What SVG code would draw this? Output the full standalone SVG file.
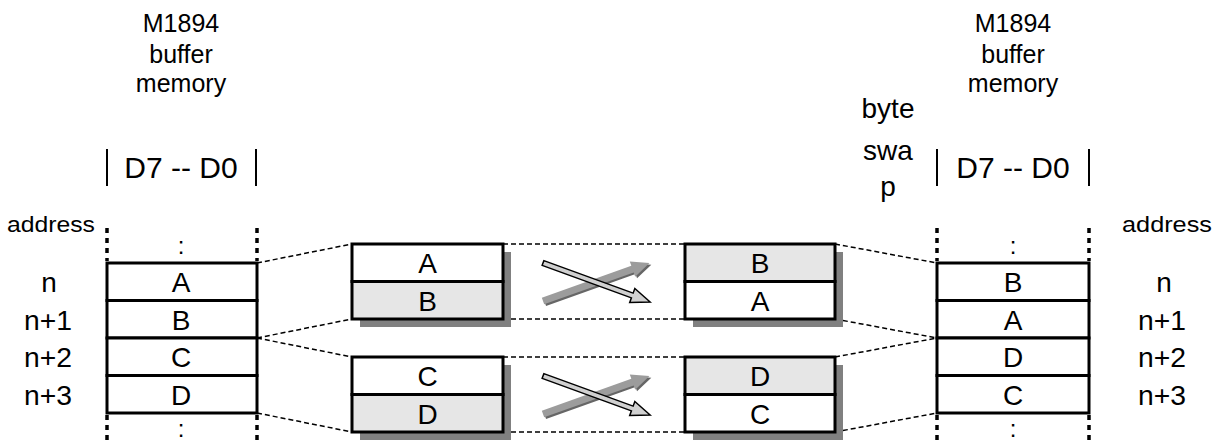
<svg xmlns="http://www.w3.org/2000/svg" width="1220" height="443" viewBox="0 0 1220 443">
<style>
text{font-family:"Liberation Sans",Arial,sans-serif;fill:#000}
.t25{font-size:25px;text-anchor:middle}
.t28{font-size:28px;text-anchor:middle}
.col{font-size:24px;text-anchor:middle}
.t30{font-size:30px;text-anchor:middle}
.addr{font-size:22px}
.cell{fill:#fff;stroke:#000;stroke-width:3}
.gcell{fill:#e6e6e6;stroke:#000;stroke-width:3}
.shadow{fill:#808080}
.dots{stroke:#000;stroke-width:3.5;stroke-dasharray:5 5;fill:none}
.bar{stroke:#000;stroke-width:2}
.conn{stroke:#000;stroke-width:1.5;stroke-dasharray:5 3;fill:none}
.arrow{fill:#d0d0d0;stroke:#000;stroke-width:1.5;stroke-linejoin:miter}
.garrow{fill:#9c9c9c}
.garrowsh{fill:#666}
</style>
<defs>
<polygon id="oarrow" class="arrow" points="0,-2.5 95,-2.5 95,-7.5 114,0 95,7.5 95,2.5 0,2.5"/>
<g id="gar">
<polygon class="garrowsh" transform="translate(1.2,2.2)" points="0,-3.5 95,-3.5 95,-8 113,0 95,8 95,3.5 0,3.5"/>
<polygon class="garrow" points="0,-3.5 95,-3.5 95,-8 113,0 95,8 95,3.5 0,3.5"/>
</g>
</defs>

<!-- left memory -->
<g id="left-memory">
<text class="t25" x="181" y="32">M1894</text>
<text class="t25" x="181" y="63">buffer</text>
<text class="t25" x="181" y="92">memory</text>
<line class="bar" x1="107" y1="149" x2="107" y2="186"/>
<line class="bar" x1="256" y1="149" x2="256" y2="186"/>
<text class="t30" x="181" y="178">D7 -- D0</text>
<text class="addr" x="7" y="232" textLength="88" lengthAdjust="spacingAndGlyphs">address</text>
<line class="dots" x1="107" y1="228" x2="107" y2="261"/>
<line class="dots" x1="257" y1="228" x2="257" y2="261"/>
<line class="dots" x1="107" y1="415" x2="107" y2="443"/>
<line class="dots" x1="257" y1="415" x2="257" y2="443"/>
<text class="col" x="181" y="254">:</text>
<text class="col" x="181" y="437">:</text>
<rect class="cell" x="107" y="263" width="150" height="37.5"/>
<rect class="cell" x="107" y="300.5" width="150" height="37.5"/>
<rect class="cell" x="107" y="338" width="150" height="37.5"/>
<rect class="cell" x="107" y="375.5" width="150" height="37.5"/>
<text class="t28" x="181" y="292">A</text>
<text class="t28" x="181" y="329.5">B</text>
<text class="t28" x="181" y="367">C</text>
<text class="t28" x="181" y="404.5">D</text>
<text class="t28" x="49" y="292">n</text>
<text class="t28" x="48" y="329.5" textLength="48" lengthAdjust="spacingAndGlyphs">n+1</text>
<text class="t28" x="48" y="367" textLength="48" lengthAdjust="spacingAndGlyphs">n+2</text>
<text class="t28" x="48" y="404.5" textLength="48" lengthAdjust="spacingAndGlyphs">n+3</text>
</g>

<!-- connectors -->
<g id="connectors">
<line class="conn" x1="257" y1="263" x2="352" y2="244"/>
<line class="conn" x1="257" y1="338" x2="352" y2="319"/>
<line class="conn" x1="257" y1="338" x2="352" y2="357"/>
<line class="conn" x1="257" y1="413" x2="352" y2="432"/>
<line class="conn" x1="503" y1="244" x2="685" y2="244"/>
<line class="conn" x1="503" y1="319" x2="685" y2="319"/>
<line class="conn" x1="503" y1="357" x2="685" y2="357"/>
<line class="conn" x1="503" y1="432" x2="685" y2="432"/>
<line class="conn" x1="835" y1="244" x2="937" y2="263"/>
<line class="conn" x1="835" y1="319" x2="937" y2="338"/>
<line class="conn" x1="835" y1="357" x2="937" y2="338"/>
<line class="conn" x1="835" y1="432" x2="937" y2="413"/>
</g>

<!-- middle left boxes -->
<g id="box-AB">
<rect class="shadow" x="360" y="252" width="151" height="75"/>
<rect class="cell" x="352" y="244" width="151" height="37.5"/>
<rect class="gcell" x="352" y="281.5" width="151" height="37.5"/>
<text class="t28" x="427.5" y="273">A</text>
<text class="t28" x="427.5" y="310.5">B</text>
</g>
<g id="box-CD">
<rect class="shadow" x="360" y="365" width="151" height="75"/>
<rect class="cell" x="352" y="357" width="151" height="37.5"/>
<rect class="gcell" x="352" y="394.5" width="151" height="37.5"/>
<text class="t28" x="427.5" y="386">C</text>
<text class="t28" x="427.5" y="423.5">D</text>
</g>

<!-- swap arrows -->
<g id="swap-1">
<use href="#gar" transform="translate(543,301) rotate(-19.6)"/>
<use href="#oarrow" transform="translate(543,263) rotate(20)"/>
</g>
<g id="swap-2">
<use href="#gar" transform="translate(543,414) rotate(-19.6)"/>
<use href="#oarrow" transform="translate(543,376) rotate(20)"/>
</g>

<!-- middle right boxes -->
<g id="box-BA">
<rect class="shadow" x="693" y="252" width="150" height="75"/>
<rect class="gcell" x="685" y="244" width="150" height="37.5"/>
<rect class="cell" x="685" y="281.5" width="150" height="37.5"/>
<text class="t28" x="760" y="273">B</text>
<text class="t28" x="760" y="310.5">A</text>
</g>
<g id="box-DC">
<rect class="shadow" x="693" y="365" width="150" height="75"/>
<rect class="gcell" x="685" y="357" width="150" height="37.5"/>
<rect class="cell" x="685" y="394.5" width="150" height="37.5"/>
<text class="t28" x="760" y="386">D</text>
<text class="t28" x="760" y="423.5">C</text>
</g>

<!-- byte swap label -->
<g id="byte-swap">
<text class="t28" x="888" y="118">byte</text>
<text class="t28" x="888" y="160">swa</text>
<text class="t28" x="888" y="196">p</text>
</g>

<!-- right memory -->
<g id="right-memory">
<text class="t25" x="1013" y="32">M1894</text>
<text class="t25" x="1013" y="63">buffer</text>
<text class="t25" x="1013" y="92">memory</text>
<line class="bar" x1="937" y1="149" x2="937" y2="186"/>
<line class="bar" x1="1089" y1="149" x2="1089" y2="186"/>
<text class="t30" x="1013" y="178">D7 -- D0</text>
<text class="addr" x="1122" y="232" textLength="90" lengthAdjust="spacingAndGlyphs">address</text>
<line class="dots" x1="937" y1="228" x2="937" y2="261"/>
<line class="dots" x1="1089" y1="228" x2="1089" y2="261"/>
<line class="dots" x1="937" y1="415" x2="937" y2="443"/>
<line class="dots" x1="1089" y1="415" x2="1089" y2="443"/>
<text class="col" x="1013" y="254">:</text>
<text class="col" x="1013" y="437">:</text>
<rect class="cell" x="937" y="263" width="152" height="37.5"/>
<rect class="cell" x="937" y="300.5" width="152" height="37.5"/>
<rect class="cell" x="937" y="338" width="152" height="37.5"/>
<rect class="cell" x="937" y="375.5" width="152" height="37.5"/>
<text class="t28" x="1013" y="292">B</text>
<text class="t28" x="1013" y="329.5">A</text>
<text class="t28" x="1013" y="367">D</text>
<text class="t28" x="1013" y="404.5">C</text>
<text class="t28" x="1164" y="292">n</text>
<text class="t28" x="1162" y="329.5" textLength="48" lengthAdjust="spacingAndGlyphs">n+1</text>
<text class="t28" x="1162" y="367" textLength="48" lengthAdjust="spacingAndGlyphs">n+2</text>
<text class="t28" x="1162" y="404.5" textLength="48" lengthAdjust="spacingAndGlyphs">n+3</text>
</g>
</svg>
